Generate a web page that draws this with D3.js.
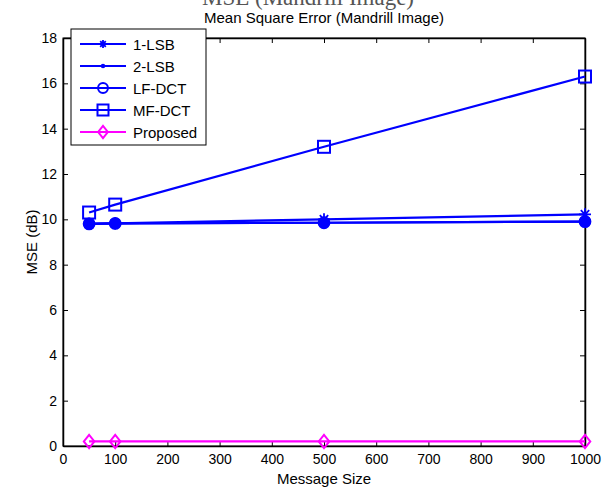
<!DOCTYPE html>
<html>
<head>
<meta charset="utf-8">
<script src="https://cdn.jsdelivr.net/npm/d3@7"></script>
<style>
  body { margin: 0; background: #fff; }
  svg { display: block; font-family: Arial, "Liberation Sans", sans-serif; }
</style>
</head>
<body>
<div id="chart"></div>
<script>
// data
const messageSize = [50, 100, 500, 1000];
const lsb1 = [9.8, 9.82, 10.0, 10.22];
const lsb2 = [9.8, 9.82, 9.85, 9.9];
const lfDct = [9.8, 9.82, 9.85, 9.9];
const mfDct = [10.3, 10.65, 13.2, 16.3];
const proposed = [0.2, 0.2, 0.2, 0.2];
const seriesNames = ["1-LSB", "2-LSB", "LF-DCT", "MF-DCT", "Proposed"];
const xTicks = [0, 100, 200, 300, 400, 500, 600, 700, 800, 900, 1000];
const yTicks = [0, 2, 4, 6, 8, 10, 12, 14, 16, 18];

const W = 611, H = 488;
const margin = { top: 38, right: 26, bottom: 42, left: 63 };

const series = [
  { name: seriesNames[0], values: lsb1, color: "#0000ff", marker: "star" },
  { name: seriesNames[1], values: lsb2, color: "#0000ff", marker: "dot" },
  { name: seriesNames[2], values: lfDct, color: "#0000ff", marker: "circle" },
  { name: seriesNames[3], values: mfDct, color: "#0000ff", marker: "square" },
  { name: seriesNames[4], values: proposed, color: "#ff00ff", marker: "diamond" }
];

const svg = d3.select("#chart").append("svg")
  .attr("width", W).attr("height", H);

const x = d3.scaleLinear().domain([0, 1000]).range([margin.left, W - margin.right]);
const y = d3.scaleLinear().domain([0, 18]).range([H - margin.bottom, margin.top]);

// big title, cut off by the top edge in the original too
svg.append("text")
  .attr("x", 308).attr("y", 5)
  .attr("text-anchor", "middle")
  .style("font-family", "'Liberation Serif', 'DejaVu Serif', serif")
  .style("font-size", "23px")
  .style("fill", "#555")
  .text("MSE (Mandrill Image)");

// axes title
svg.append("text")
  .attr("x", (x.range()[0] + x.range()[1]) / 2).attr("y", 23)
  .attr("text-anchor", "middle")
  .style("font-size", "15px")
  .text("Mean Square Error (Mandrill Image)");

// frame
svg.append("rect")
  .attr("x", x(0)).attr("y", y(18))
  .attr("width", x(1000) - x(0)).attr("height", y(0) - y(18))
  .attr("fill", "none").attr("stroke", "#000").attr("stroke-width", 1);

// ticks inside on all four sides
const tl = 5;
const axB = svg.append("g").attr("transform", `translate(0,${y(0)})`)
  .call(d3.axisBottom(x).tickValues(xTicks).tickFormat(d3.format("d")).tickSizeInner(-tl).tickSizeOuter(0).tickPadding(8));
const axT = svg.append("g").attr("transform", `translate(0,${y(18)})`)
  .call(d3.axisTop(x).tickValues(xTicks).tickSizeInner(-tl).tickSizeOuter(0).tickFormat(""));
const axL = svg.append("g").attr("transform", `translate(${x(0)},0)`)
  .call(d3.axisLeft(y).tickValues(yTicks).tickSizeInner(-tl).tickSizeOuter(0).tickPadding(6));
const axR = svg.append("g").attr("transform", `translate(${x(1000)},0)`)
  .call(d3.axisRight(y).tickValues(yTicks).tickSizeInner(-tl).tickSizeOuter(0).tickFormat(""));

[axB, axT, axL, axR].forEach(g => {
  g.select(".domain").attr("stroke", "#000").attr("stroke-width", 1.5);
  g.selectAll("text").style("font-size", "14px").style("font-family", "Arial, 'Liberation Sans', sans-serif").attr("fill", "#000");
});

svg.append("text")
  .attr("x", (x.range()[0] + x.range()[1]) / 2).attr("y", 484)
  .attr("text-anchor", "middle")
  .style("font-size", "15px")
  .text("Message Size");

svg.append("text")
  .attr("transform", `translate(37,${(y(0) + y(18)) / 2}) rotate(-90)`)
  .attr("text-anchor", "middle")
  .style("font-size", "15px")
  .text("MSE (dB)");

// marker drawing
function drawMarker(g, type, cx, cy, color, s) {
  if (type === "star") {
    const r = s * 0.5;
    const p = `M${cx - r},${cy}L${cx + r},${cy}M${cx},${cy - r}L${cx},${cy + r}` +
      `M${cx - r * 0.7},${cy - r * 0.7}L${cx + r * 0.7},${cy + r * 0.7}` +
      `M${cx - r * 0.7},${cy + r * 0.7}L${cx + r * 0.7},${cy - r * 0.7}`;
    g.append("path").attr("d", p).attr("stroke", color).attr("stroke-width", 1.8).attr("fill", "none");
  } else if (type === "dot") {
    g.append("circle").attr("cx", cx).attr("cy", cy).attr("r", s * 0.45).attr("fill", color);
  } else if (type === "circle") {
    g.append("circle").attr("cx", cx).attr("cy", cy).attr("r", s * 0.45)
      .attr("fill", "none").attr("stroke", color).attr("stroke-width", 2);
  } else if (type === "square") {
    g.append("rect").attr("x", cx - s * 0.5).attr("y", cy - s * 0.5).attr("width", s).attr("height", s)
      .attr("fill", "none").attr("stroke", color).attr("stroke-width", 2);
  } else if (type === "diamond") {
    const r = s * 0.55;
    g.append("path").attr("d", `M${cx},${cy - r}L${cx + r * 0.8},${cy}L${cx},${cy + r}L${cx - r * 0.8},${cy}Z`)
      .attr("fill", "none").attr("stroke", color).attr("stroke-width", 2);
  }
}

const line = d3.line().x(d => x(d[0])).y(d => y(d[1]));
const plot = svg.append("g");

series.forEach(s => {
  const pts = messageSize.map((m, i) => [m, s.values[i]]);
  plot.append("path").datum(pts)
    .attr("d", line)
    .attr("fill", "none").attr("stroke", s.color).attr("stroke-width", 2.2);
  pts.forEach(p => drawMarker(plot, s.marker, x(p[0]), y(p[1]), s.color, s.marker === "dot" ? 13 : 12));
});

// legend
const lg = svg.append("g");
lg.append("rect")
  .attr("x", 71).attr("y", 29).attr("width", 135).attr("height", 116)
  .attr("fill", "#fff").attr("stroke", "#000").attr("stroke-width", 1);

series.forEach((s, i) => {
  const ly = 44 + i * 22;
  lg.append("line").attr("x1", 80).attr("x2", 126).attr("y1", ly).attr("y2", ly)
    .attr("stroke", s.color).attr("stroke-width", 2.2);
  drawMarker(lg, s.marker, 103, ly, s.color, s.marker === "dot" ? 5 : (s.marker === "star" ? 8 : 11));
  lg.append("text").attr("x", 133).attr("y", ly + 5.5)
    .style("font-size", "15px")
    .text(s.name);
});
</script>
</body>
</html>
